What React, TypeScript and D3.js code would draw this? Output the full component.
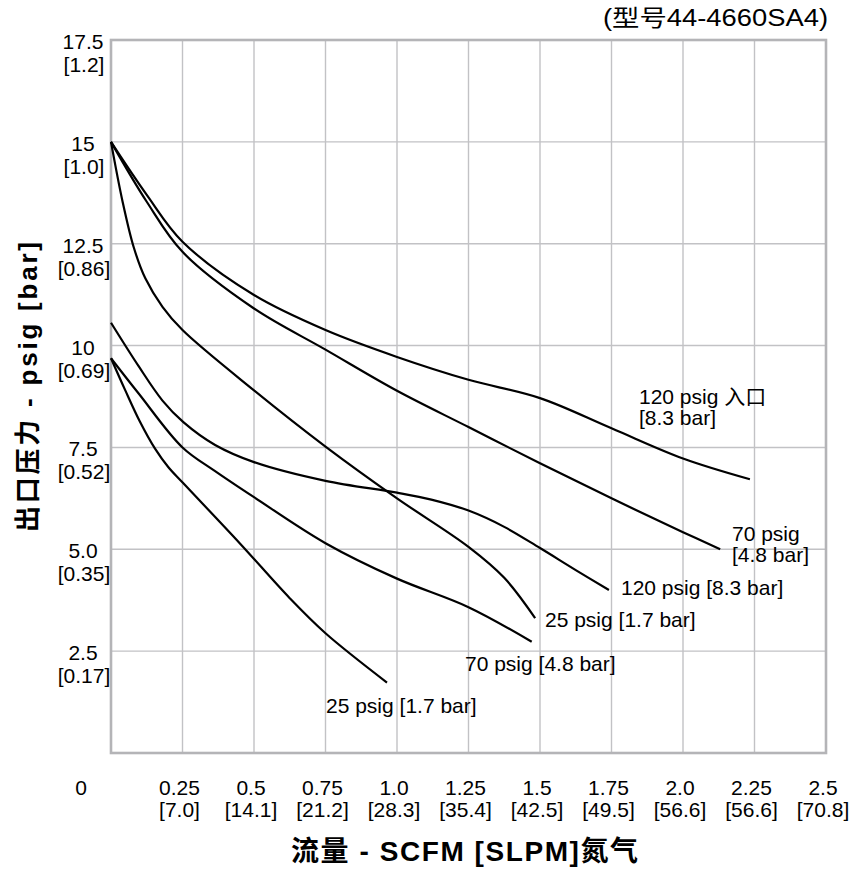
import React from "react";
import * as d3 from "d3";

// ---- data ----
const xTicks = [0.25, 0.5, 0.75, 1.0, 1.25, 1.5, 1.75, 2.0, 2.25, 2.5];
const xTickLabels = ["0.25", "0.5", "0.75", "1.0", "1.25", "1.5", "1.75", "2.0", "2.25", "2.5"];
const xTickSlpm = ["[7.0]", "[14.1]", "[21.2]", "[28.3]", "[35.4]", "[42.5]", "[49.5]", "[56.6]", "[56.6]", "[70.8]"];
const yTicks = [2.5, 5, 7.5, 10, 12.5, 15, 17.5];
const yTickLabels = ["2.5", "5.0", "7.5", "10", "12.5", "15", "17.5"];
const yTickBar = ["[0.17]", "[0.35]", "[0.52]", "[0.69]", "[0.86]", "[1.0]", "[1.2]"];

// curves: [flow SCFM, outlet psig]
const inlet120Set15: [number, number][] = [
  [0, 15], [0.125, 13.7], [0.25, 12.55], [0.5, 11.24], [0.75, 10.38], [1.0, 9.72],
  [1.25, 9.16], [1.5, 8.71], [1.75, 7.97], [2.0, 7.23], [2.234, 6.72],
];
const inlet70Set15: [number, number][] = [
  [0, 15], [0.125, 13.53], [0.25, 12.3], [0.5, 10.91], [0.75, 9.9], [1.0, 8.89],
  [1.25, 8.0], [1.5, 7.11], [1.75, 6.25], [2.0, 5.42], [2.13, 5.0],
];
const inlet25Set15: [number, number][] = [
  [0, 15], [0.04, 13.55], [0.08, 12.4], [0.12, 11.65], [0.18, 10.95],
  [0.25, 10.38], [0.5, 8.9], [0.75, 7.52], [1.0, 6.25], [1.25, 5.06], [1.375, 4.3],
  [1.483, 3.31],
];
const inlet120Set10: [number, number][] = [
  [0, 10.56], [0.096, 9.5], [0.18, 8.65], [0.253, 8.12], [0.364, 7.56], [0.5, 7.14],
  [0.75, 6.68], [1.0, 6.39], [1.12, 6.22], [1.25, 5.95], [1.375, 5.55], [1.5, 5.03],
  [1.625, 4.49], [1.741, 4.0],
];
const inlet70Set10: [number, number][] = [
  [0, 9.69], [0.096, 8.83], [0.25, 7.5], [0.364, 6.92], [0.5, 6.28], [0.75, 5.15],
  [1.0, 4.28], [1.25, 3.58], [1.471, 2.73],
];
const inlet25Set10: [number, number][] = [
  [0, 9.69], [0.05, 8.9], [0.1, 8.15], [0.154, 7.47], [0.2, 7.02], [0.253, 6.62],
  [0.45, 5.15], [0.625, 3.8], [0.75, 2.94], [0.965, 1.73],
];

const curves = [inlet120Set15, inlet70Set15, inlet25Set15, inlet120Set10, inlet70Set10, inlet25Set10];

const curveLabels: { text: string; x: number; y: number }[] = [
  { text: "120 psig 入口", x: 639, y: 404 },
  { text: "[8.3 bar]", x: 639, y: 425 },
  { text: "70 psig", x: 732, y: 541 },
  { text: "[4.8 bar]", x: 732, y: 562 },
  { text: "120 psig [8.3 bar]", x: 621, y: 595 },
  { text: "25 psig [1.7 bar]", x: 545, y: 627 },
  { text: "70 psig [4.8 bar]", x: 465, y: 671 },
  { text: "25 psig [1.7 bar]", x: 326, y: 713 },
];

const FONT = "'Liberation Sans', Arial, 'Noto Sans CJK SC', sans-serif";

export default function App() {
  const left = 111, right = 826, top = 40, bottom = 753;
  const x = d3.scaleLinear().domain([0, 2.5]).range([left, right]);
  const y = d3.scaleLinear().domain([0, 17.5]).range([bottom, top]);
  const line = d3
    .line<[number, number]>()
    .x((d) => x(d[0]))
    .y((d) => y(d[1]))
    .curve(d3.curveCatmullRom.alpha(0.5));

  return (
    <svg
      width={852}
      height={870}
      style={{ position: "absolute", left: 0, top: 0, background: "#fff" }}
      fontFamily={FONT}
    >
      <rect x={0} y={0} width={852} height={870} fill="#fff" />
      {/* grid */}
      {xTicks.map((t) => (
        <line key={"gx" + t} x1={x(t)} x2={x(t)} y1={top} y2={bottom} stroke="#c2c2c5" strokeWidth={1.4} />
      ))}
      {yTicks.map((t) => (
        <line key={"gy" + t} x1={left} x2={right} y1={y(t)} y2={y(t)} stroke="#c2c2c5" strokeWidth={1.4} />
      ))}
      <rect x={left} y={top} width={right - left} height={bottom - top} fill="none" stroke="#b4b4b7" strokeWidth={2.6} />

      {/* curves */}
      {curves.map((c, i) => (
        <path key={"c" + i} d={line(c) || ""} fill="none" stroke="#000" strokeWidth={2.2} />
      ))}

      {/* curve labels */}
      {curveLabels.map((l, i) => (
        <text key={"l" + i} x={l.x} y={l.y} fontSize={21} fill="#000">
          {l.text}
        </text>
      ))}

      {/* x tick labels */}
      <text x={81} y={795} fontSize={21} textAnchor="middle">0</text>
      {xTicks.map((t, i) => (
        <g key={"xt" + t}>
          <text x={x(t) - 3} y={795} fontSize={21} textAnchor="middle">{xTickLabels[i]}</text>
          <text x={x(t) - 3} y={817} fontSize={21} textAnchor="middle">{xTickSlpm[i]}</text>
        </g>
      ))}

      {/* y tick labels */}
      {yTicks.map((t, i) => (
        <g key={"yt" + t}>
          <text x={83} y={y(t) + 9} fontSize={21} textAnchor="middle">{yTickLabels[i]}</text>
          <text x={84} y={y(t) + 32} fontSize={21} textAnchor="middle">{yTickBar[i]}</text>
        </g>
      ))}

      {/* titles */}
      <text
        x={291}
        y={861}
        fontSize={28}
        fontWeight="bold"
        textLength={347}
        lengthAdjust="spacing"
      >
        流量 - SCFM [SLPM]氮气
      </text>
      <text
        transform="translate(37,532) rotate(-90)"
        x={0}
        y={0}
        fontSize={26}
        fontWeight="bold"
        textLength={290}
        lengthAdjust="spacing"
      >
        出口压力 - psig [bar]
      </text>
      <text
        x={603}
        y={26}
        fontSize={23}
        textLength={225}
        lengthAdjust="spacingAndGlyphs"
      >
        (型号44-4660SA4)
      </text>
    </svg>
  );
}
